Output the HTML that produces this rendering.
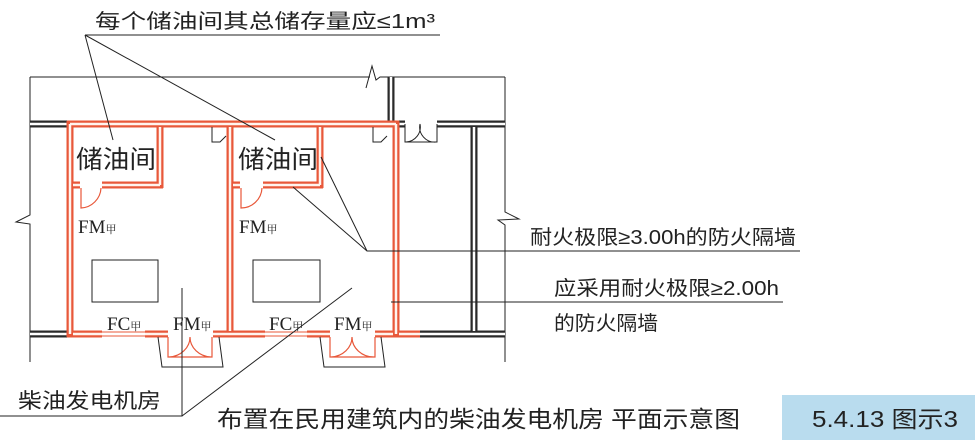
<!DOCTYPE html>
<html><head><meta charset="utf-8"><style>
html,body{margin:0;padding:0;background:#fff;}
svg{display:block;}
text{font-family:"Liberation Serif","Noto Serif CJK SC","Noto Sans CJK SC",serif;fill:#222;}
.s{font-family:"Liberation Sans","Noto Sans CJK SC",sans-serif;}
</style></head><body>
<svg width="980" height="445" viewBox="0 0 980 445" xmlns="http://www.w3.org/2000/svg">
<g fill="none" stroke="#222" stroke-width="1">
<polyline points="30,77 370,77"/>
<polyline points="366,88 372,66 376,80 380,77 505,77"/>
<polyline points="30,77 30,215 16,222 30,224 30,362"/>
<polyline points="505,77 505,212 519,219 498,220 505,225 505,362"/>
</g>
<g fill="none" stroke="#2a2a2a" stroke-width="7" stroke-linecap="butt">
<path d="M30,124 H67 M30,334 H67 M391,77 V124 M437,124 H505 M474,124 V334 M420,334 H505 M396,124 H405"/>
</g>
<g fill="none" stroke="#fff" stroke-width="2.5">
<path d="M30,124 H67 M30,334 H67 M391,77 V121 M437,124 H505 M474,127 V331 M420,334 H505 M396,124 H405"/>
</g>
<g fill="none" stroke="#e8583a" stroke-width="7">
<path d="M70,121 V337 M67,124 H399 M396,121 V337 M230,124 V334 M70,185 H80 M102,185 H163 M160,124 V188 M230,185 H240 M263,185 H323 M320,124 V188 M67,334 H102 M145,334 H168 M213,334 H265 M307,334 H330 M375,334 H420"/>
</g>
<g fill="none" stroke="#fff4ee" stroke-width="2.5">
<path d="M70,124 V334 M70,124 H396 M396,124 V334 M230,127 V331 M73,185 H80 M102,185 H160 M160,127 V185 M233,185 H240 M263,185 H320 M320,127 V185 M73,334 H102 M145,334 H168 M213,334 H265 M307,334 H330 M375,334 H393 M399,334 H420"/>
</g>
<g stroke="#e8583a" stroke-width="1">
<path d="M102,332 H145 M102,336 H145 M265,332 H307 M265,336 H307"/>
</g>
<g fill="none" stroke="#e8583a" stroke-width="1.2">
<path d="M81,188 V208 A21,21 0 0 0 101,188"/>
<path d="M241,188 V208 A21,21 0 0 0 262,188"/>
<path d="M168,337 V357 H212 V337 M169,357 A22,20 0 0 0 190,337 M211,357 A22,20 0 0 1 190,337"/>
<path d="M330,337 V357 H375 V337 M331,357 A22,20 0 0 0 352,337 M374,357 A22,20 0 0 1 352,337"/>
</g>
<g fill="none" stroke="#222" stroke-width="1">
<path d="M158,337 L162,367 H223 L219,337"/>
<path d="M320,337 L324,367 H385 L381,337"/>
<path d="M212,127 V142 H220 L226,136"/>
<path d="M373,127 V142 H381 L387,136"/>
<path d="M405,124 V142 H437 V124 M406,142 A15,15 0 0 0 420,124 M436,142 A15,15 0 0 1 420,124"/>
<rect x="92" y="260" width="66" height="42"/>
<rect x="253" y="260" width="67" height="42"/>
<path d="M85,35 H440 M85,35 L113,140 M85,35 L275,140"/>
<path d="M321,157 L367,251 H800 M293,187 L367,251"/>
<path d="M391,302 H783"/>
<path d="M0,416 H182 V288 M182,416 L352,288"/>
</g>
<text x="95" y="28" font-size="20" class="s" textLength="340" lengthAdjust="spacingAndGlyphs">每个储油间其总储存量应≤1m³</text>
<text x="76" y="168" font-size="25" class="s" textLength="80" lengthAdjust="spacingAndGlyphs">储油间</text>
<text x="238" y="168" font-size="25" class="s" textLength="80" lengthAdjust="spacingAndGlyphs">储油间</text>
<text x="78" y="233" font-size="19">FM<tspan font-size="11">甲</tspan></text>
<text x="239" y="233" font-size="19">FM<tspan font-size="11">甲</tspan></text>
<text x="107" y="330" font-size="19">FC<tspan font-size="11">甲</tspan></text>
<text x="173" y="330" font-size="19">FM<tspan font-size="11">甲</tspan></text>
<text x="269" y="330" font-size="19">FC<tspan font-size="11">甲</tspan></text>
<text x="334" y="330" font-size="19">FM<tspan font-size="11">甲</tspan></text>
<text x="530" y="244" font-size="20" class="s" textLength="266" lengthAdjust="spacingAndGlyphs">耐火极限≥3.00h的防火隔墙</text>
<text x="554" y="295" font-size="20" class="s" textLength="225" lengthAdjust="spacingAndGlyphs">应采用耐火极限≥2.00h</text>
<text x="554" y="330" font-size="20" class="s" textLength="104" lengthAdjust="spacingAndGlyphs">的防火隔墙</text>
<text x="18" y="408" font-size="21" class="s" textLength="143" lengthAdjust="spacingAndGlyphs">柴油发电机房</text>
<text x="217" y="427" font-size="23" class="s" textLength="523" lengthAdjust="spacingAndGlyphs">布置在民用建筑内的柴油发电机房 平面示意图</text>
<rect x="782" y="395" width="193" height="45" fill="#b9dcee"/>
<text x="812" y="427" font-size="23" class="s" textLength="146" lengthAdjust="spacingAndGlyphs">5.4.13 图示3</text>
</svg>
</body></html>
